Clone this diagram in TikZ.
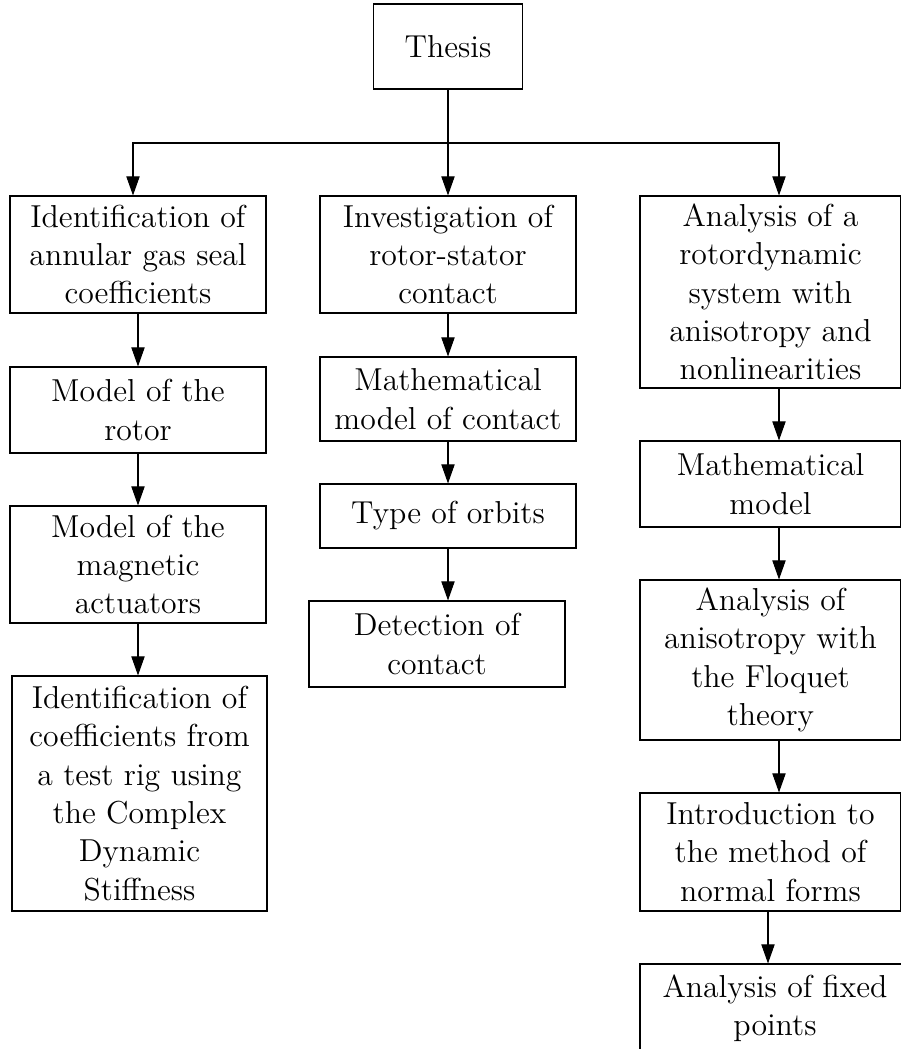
\documentclass[tikz,border=0pt,12pt]{standalone}
\usetikzlibrary{arrows.meta,positioning}
\begin{document}
\begin{tikzpicture}[x=0.378pt,y=-0.378pt]
\tikzset{box/.style={draw, align=center, inner sep=0pt}}
\tikzset{size/.style 2 args={minimum width=#1*0.378pt, minimum height=#2*0.378pt}}
\tikzset{arr/.style={-{Triangle[length=7.2pt,width=5pt]}}}
\tikzset{arrboth/.style={{Triangle[length=7.2pt,width=5pt]}-{Triangle[length=7.2pt,width=5pt]}}}
\useasboundingbox (0,0) rectangle (901,1049);
\clip (0,0) rectangle (901,1049);
% top
\node[box, size={149}{85}] (thesis) at (448,46.5) {Thesis};
% left column
\node[box, size={256}{117}] (L1) at (138,254.5) {Identification of\\annular gas seal\\coefficients};
\node[box, size={256}{86}] (L2) at (138,410) {Model of the\\rotor};
\node[box, size={256}{117}] (L3) at (138,564.5) {Model of the\\magnetic\\actuators};
\node[box, size={255}{235}] (L4) at (139.5,793.5) {Identification of\\coefficients from\\a test rig using\\the Complex\\Dynamic\\Stiffness};
% middle column
\node[box, size={256}{117}] (M1) at (448,254.5) {Investigation of\\rotor-stator\\contact};
\node[box, size={256}{84}] (M2) at (448,399) {Mathematical\\model of contact};
\node[box, size={256}{64}] (M3) at (448,516) {Type of orbits};
\node[box, size={256}{86}] (M4) at (437,644) {Detection of\\contact};
% right column
\node[box, size={261}{192}] (R1) at (770.5,292) {Analysis of a\\rotordynamic\\system with\\anisotropy and\\nonlinearities};
\node[box, size={261}{86}] (R2) at (770.5,484) {Mathematical\\model};
\node[box, size={261}{160}] (R3) at (770.5,660) {Analysis of\\anisotropy with\\the Floquet\\theory};
\node[box, size={261}{118}] (R4) at (770.5,852) {Introduction to\\the method of\\normal forms};
\node[box, size={270}{88}] (R5) at (775,1008) {Analysis of fixed\\points};
% connectors
\coordinate (colL) at (133,143);
\coordinate (colR) at (779,143);
\coordinate (colRlast) at (768,0);
\draw[arr] (thesis) -- (M1);
\draw[arrboth] (L1.north -| colL) -- (colL) -- (colR) -- (R1.north -| colR);
\draw[arr] (L1) -- (L2);
\draw[arr] (L2) -- (L3);
\draw[arr] (L3.south) -- (L4.north -| L3.south);
\draw[arr] (M1) -- (M2);
\draw[arr] (M2) -- (M3);
\draw[arr] (M3.south) -- (M4.north -| M3.south);
\draw[arr] (R1.south -| colR) -- (R2.north -| colR);
\draw[arr] (R2.south -| colR) -- (R3.north -| colR);
\draw[arr] (R3.south -| colR) -- (R4.north -| colR);
\draw[arr] (R4.south -| colRlast) -- (R5.north -| colRlast);
\end{tikzpicture}
\end{document}
